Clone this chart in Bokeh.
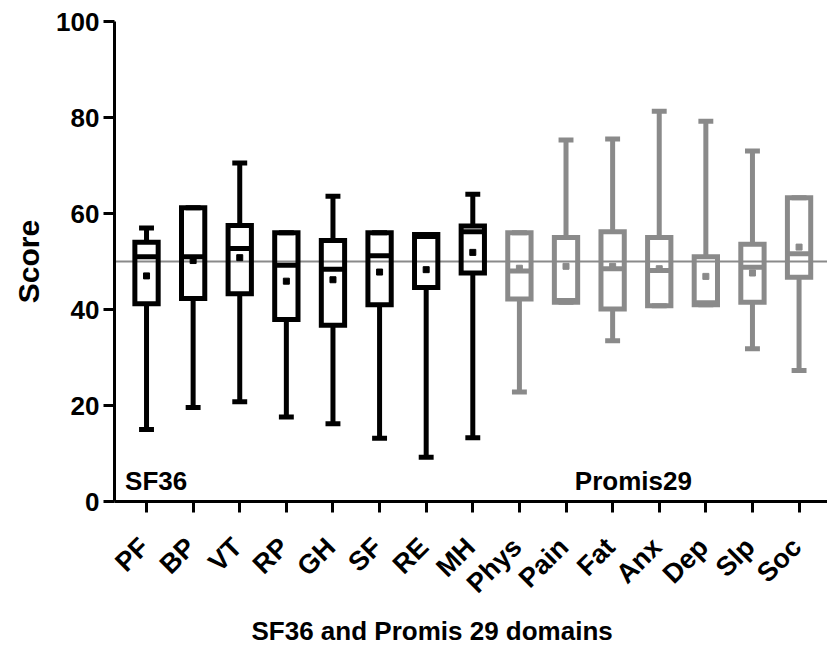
import math
from bokeh.plotting import figure
from bokeh.models import Range1d, FixedTicker, Span, ColumnDataSource, LinearAxis, Title
from bokeh.core.properties import value
from bokeh.embed import file_html
from bokeh.resources import INLINE

# ---- data ----
categories = ["PF", "BP", "VT", "RP", "GH", "SF", "RE", "MH",
              "Phys", "Pain", "Fat", "Anx", "Dep", "Slp", "Soc"]
groups = ["SF36"] * 8 + ["Promis29"] * 7
whisker_min = [15.0, 19.6, 20.8, 17.6, 16.2, 13.2, 9.2, 13.3,
               22.8, 41.5, 33.5, 40.8, 41.0, 31.8, 27.3]
q1 = [41.2, 42.3, 43.3, 37.9, 36.7, 41.0, 44.6, 47.6,
      42.2, 41.5, 40.1, 40.8, 41.0, 41.5, 46.7]
median = [51.0, 51.0, 52.7, 49.2, 48.4, 51.2, 55.2, 56.2,
          48.0, 41.9, 48.5, 48.1, 41.4, 48.8, 51.6]
q3 = [54.0, 61.2, 57.5, 56.0, 54.4, 56.0, 55.6, 57.4,
      56.0, 55.0, 56.2, 55.0, 51.0, 53.6, 63.3]
whisker_max = [57.0, 61.2, 70.5, 56.0, 63.6, 56.0, 55.6, 64.0,
               56.0, 75.3, 75.5, 81.3, 79.2, 73.0, 63.3]
means = [47.0, 50.2, 50.8, 45.9, 46.2, 47.8, 48.3, 51.9,
         48.6, 49.0, 49.0, 48.5, 46.9, 47.6, 53.0]
reference_score = 50
y_ticks = [0, 20, 40, 60, 80, 100]
group_labels = ["SF36", "Promis29"]
group_label_x = [0.54, 10.19]
group_label_y = [4.2, 4.2]
x_title = "SF36 and  Promis 29 domains"
y_title = "Score"

colors = {"SF36": "#000000", "Promis29": "#8a8a8a"}
FONT = "Liberation Sans"

xs = list(range(1, len(categories) + 1))
bw = 0.25   # half box width
cw = 0.16   # half cap width
src = ColumnDataSource(dict(
    x=xs,
    left=[x - bw for x in xs], right=[x + bw for x in xs],
    cl=[x - cw for x in xs], cr=[x + cw for x in xs],
    wmin=whisker_min, q1=q1, med=median, q3=q3, wmax=whisker_max, mean=means,
    color=[colors[g] for g in groups],
))

p = figure(width=827, height=650, output_backend="svg", toolbar_location=None,
           x_range=Range1d(0.313, 15.61), y_range=Range1d(0, 100),
           min_border_left=114, min_border_top=21, min_border_bottom=149,
           min_border_right=0)
p.outline_line_color = None
p.grid.visible = False

p.add_layout(Span(location=reference_score, dimension="width",
                  line_color="#8a8a8a", line_width=1.8, level="underlay"))

LW = 5
p.segment(x0="x", y0="wmin", x1="x", y1="q1", source=src, line_color="color", line_width=LW)
p.segment(x0="x", y0="q3", x1="x", y1="wmax", source=src, line_color="color", line_width=LW)
p.segment(x0="cl", y0="wmin", x1="cr", y1="wmin", source=src, line_color="color", line_width=LW)
p.segment(x0="cl", y0="wmax", x1="cr", y1="wmax", source=src, line_color="color", line_width=LW)
p.quad(left="left", right="right", bottom="q1", top="q3", source=src,
       fill_color="white", fill_alpha=0.0, line_color="color", line_width=LW,
       line_join="miter")
p.segment(x0="left", y0="med", x1="right", y1="med", source=src, line_color="color", line_width=LW)
p.scatter(x="x", y="mean", source=src, marker="square", size=6,
          fill_color="color", line_color="color")

p.text(x=group_label_x, y=group_label_y, text=group_labels,
       text_font=value(FONT), text_font_style="bold", text_font_size="26px",
       text_color="#000000", text_baseline="alphabetic", text_align="left")

# axes
xa = p.xaxis[0]
xa.ticker = FixedTicker(ticks=xs)
xa.major_label_overrides = {x: "" for x in xs}
xa.major_label_text_font_size = "1px"
xa.major_label_standoff = 0
xa.minor_tick_line_color = None
ya = p.yaxis[0]
ya.ticker = FixedTicker(ticks=y_ticks)
ya.minor_tick_line_color = None
for ax in (xa, ya):
    ax.axis_line_width = 3
    ax.axis_line_color = "#000000"
    ax.major_tick_line_width = 3
    ax.major_tick_line_color = "#000000"
    ax.major_tick_out = 11
    ax.major_tick_in = 0
ya.major_label_text_font = FONT
ya.major_label_text_font_style = "bold"
ya.major_label_text_font_size = "26px"
ya.major_label_text_color = "#000000"
ya.major_label_standoff = 4
ya.axis_label = y_title
ya.axis_label_text_font = FONT
ya.axis_label_text_font_style = "bold"
ya.axis_label_text_color = "#000000"
ya.axis_label_text_font_size = "30px"
ya.axis_label_standoff = 8

# rotated category labels
label_shift = -0.05
lab_ticks = [x + label_shift for x in xs]
lab_axis = LinearAxis(ticker=FixedTicker(ticks=lab_ticks),
                      major_label_overrides={t: c for t, c in zip(lab_ticks, categories)},
                      major_label_orientation=math.pi / 4,
                      axis_line_color=None, major_tick_line_color=None,
                      minor_tick_line_color=None,
                      major_label_standoff=24,
                      major_label_text_font=FONT,
                      major_label_text_font_style="bold",
                      major_label_text_font_size="27px",
                      major_label_text_color="#000000")
p.add_layout(lab_axis, "below")

# x axis title
p.add_layout(Title(text=x_title, align="left", offset=137, standoff=3,
                   text_font=FONT, text_font_style="bold",
                   text_font_size="26px", text_color="#000000"), "below")

open("out.html", "w").write(file_html(p, INLINE))
